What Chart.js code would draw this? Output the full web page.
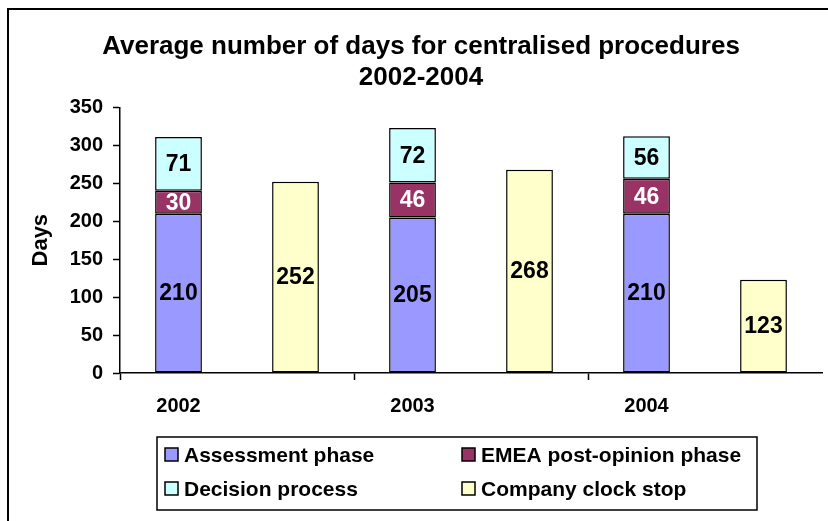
<!DOCTYPE html>
<html>
<head>
<meta charset="utf-8">
<title>Average number of days for centralised procedures 2002-2004</title>
<script src="https://cdn.jsdelivr.net/npm/chart.js@4.4.1/dist/chart.umd.min.js"></script>
<style>
  html, body { margin: 0; padding: 0; background: #fff; }
</style>
</head>
<body>
<canvas id="mycanvas" width="828" height="521"></canvas>
<script>
var years = ['2002', '2003', '2004'];
var assessment = [210, 205, 210];
var emea = [30, 46, 46];
var decision = [71, 72, 56];
var clockStop = [252, 268, 123];
var yMax = 350;
var yStep = 50;

var font = 'Arial, "Liberation Sans", sans-serif';

// each year gets two slots: the stacked bar, then the clock-stop bar
var labels = [];
var slotA = function(arr) { var out = []; for (var i in arr) { out.push(arr[i]); out.push(null); } return out; };
var slotB = function(arr) { var out = []; for (var i in arr) { out.push(null); out.push(arr[i]); } return out; };
for (var i in years) { labels.push(years[i]); labels.push(''); }

var chartdata = {
  labels: labels,
  datasets: [
    { label: 'Assessment phase', data: slotA(assessment), backgroundColor: '#9999FF', labelColor: '#000' },
    { label: 'EMEA post-opinion phase', data: slotA(emea), backgroundColor: '#993366', labelColor: '#fff' },
    { label: 'Decision process', data: slotA(decision), backgroundColor: '#CCFFFF', labelColor: '#000' },
    { label: 'Company clock stop', data: slotB(clockStop), backgroundColor: '#FFFFCC', labelColor: '#000' }
  ]
};
chartdata.datasets.forEach(function(ds) {
  ds.borderColor = '#000';
  ds.borderWidth = 1.5;
  ds.borderSkipped = false;
  ds.barPercentage = 0.4;
  ds.categoryPercentage = 1;
});

var frame = {
  id: 'frame',
  beforeDraw: function(chart) {
    var ctx = chart.ctx;
    ctx.save();
    ctx.fillStyle = '#fff';
    ctx.fillRect(0, 0, chart.width, chart.height);
    ctx.strokeStyle = '#000';
    ctx.lineWidth = 2;
    ctx.beginPath();
    ctx.moveTo(8, chart.height);
    ctx.lineTo(8, 9);
    ctx.lineTo(chart.width, 9);
    ctx.stroke();
    ctx.restore();
  }
};

var barLabels = {
  id: 'barLabels',
  afterDatasetsDraw: function(chart) {
    var ctx = chart.ctx;
    ctx.save();
    ctx.font = 'bold 23px ' + font;
    ctx.textAlign = 'center';
    ctx.textBaseline = 'middle';
    chart.data.datasets.forEach(function(ds, i) {
      chart.getDatasetMeta(i).data.forEach(function(bar, j) {
        var v = ds.data[j];
        if (v == null) return;
        var c = bar.getCenterPoint();
        ctx.fillStyle = ds.labelColor;
        ctx.fillText(v, c.x, c.y + 1);
      });
    });
    ctx.restore();
  }
};

var boxLegend = {
  id: 'boxLegend',
  afterDraw: function(chart) {
    var ctx = chart.ctx;
    var cols = [165, 462];
    var rows = [455, 489];
    ctx.save();
    ctx.strokeStyle = '#000';
    ctx.lineWidth = 1.5;
    ctx.strokeRect(157, 437, 600, 73);
    ctx.font = 'bold 21px ' + font;
    ctx.textBaseline = 'middle';
    ctx.textAlign = 'left';
    chart.data.datasets.forEach(function(ds, i) {
      var x = cols[i % 2], y = rows[Math.floor(i / 2)];
      ctx.fillStyle = ds.backgroundColor;
      ctx.fillRect(x, y - 7, 13, 13);
      ctx.lineWidth = 1.5;
      ctx.strokeRect(x, y - 7, 13, 13);
      ctx.fillStyle = '#000';
      ctx.fillText(ds.label, x + 19, y + 1);
    });
    ctx.restore();
  }
};

var ctx = document.getElementById('mycanvas');

var BarGraph = new Chart(ctx, {
  type: 'bar',
  data: chartdata,
  plugins: [frame, barLabels, boxLegend],
  options: {
    responsive: false,
    animation: false,
    devicePixelRatio: 1,
    layout: { padding: { top: 10, left: 20, right: 6, bottom: 100 } },
    plugins: {
      legend: { display: false },
      tooltip: { enabled: false },
      title: {
        display: true,
        text: ['Average number of days for centralised procedures', '2002-2004'],
        color: '#000',
        font: { family: font, size: 26, weight: 'bold', lineHeight: 1.2 },
        padding: { top: 21, bottom: 14 }
      }
    },
    scales: {
      x: {
        stacked: true,
        afterFit: function(scale) { scale.height = 48; },
        grid: {
          offset: true,
          drawOnChartArea: false,
          tickLength: 7,
          tickWidth: 1.5,
          tickColor: function(c) { return c.index % 2 === 0 ? '#000' : 'rgba(0,0,0,0)'; }
        },
        border: { display: true, color: '#000', width: 1.5 },
        ticks: {
          color: '#000',
          padding: 14,
          maxRotation: 0,
          autoSkip: false,
          font: { family: font, size: 20, weight: 'bold' }
        }
      },
      y: {
        stacked: true,
        min: 0,
        max: yMax,
        afterFit: function(scale) { scale.width = 100; },
        title: {
          display: true,
          text: 'Days',
          color: '#000',
          font: { family: font, size: 22, weight: 'bold' },
          padding: { top: 8, bottom: 0 }
        },
        grid: {
          drawOnChartArea: false,
          tickLength: 7,
          tickWidth: 1.5,
          tickColor: '#000'
        },
        border: { display: true, color: '#000', width: 1.5 },
        ticks: {
          stepSize: yStep,
          color: '#000',
          padding: 10,
          font: { family: font, size: 20, weight: 'bold' }
        }
      }
    }
  }
});
</script>
</body>
</html>
